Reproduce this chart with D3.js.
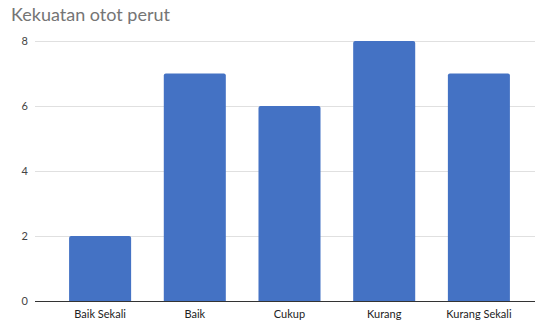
<!DOCTYPE html>
<html><head><meta charset="utf-8">
<script src="https://cdn.jsdelivr.net/npm/d3@7"></script>
<style>body{margin:0;background:#fff}svg{display:block}</style>
</head><body>
<svg id="c" width="535" height="322"></svg>
<script>
const categories = ["Baik Sekali","Baik","Cukup","Kurang","Kurang Sekali"];
const values = [2,7,6,8,7];
const yTicks = [0,2,4,6,8];
const title = "Kekuatan otot perut";

(function(){
const svg = d3.select("#c");
const W = 535, H = 322;
const mLeft = 35, mTop = 41, mBottom = 301;
const x = d3.scaleBand().domain(categories).range([mLeft, 544]).paddingInner(0.345).paddingOuter(0.36);
const y = d3.scaleLinear().domain([0,8]).range([mBottom, mTop]);
const font = "Lato, 'Open Sans', sans-serif";

svg.append("text").attr("x", 11).attr("y", 21).attr("font-family", font)
  .attr("font-size", 18).attr("fill", "#757575").text(title);

const gy = svg.append("g").attr("transform", `translate(${mLeft},0)`)
  .call(d3.axisLeft(y).tickValues(yTicks).tickSize(-(W-mLeft)).tickFormat(d3.format("d")));
gy.select(".domain").remove();
gy.selectAll(".tick line").attr("stroke", "#e0e0e0").attr("stroke-width", 1);
gy.selectAll(".tick text").attr("x", -7).attr("font-family", font).attr("font-size", 11).attr("fill", "#444");

const r = 2;
svg.append("g").selectAll("path").data(values).join("path")
  .attr("fill", "#4472C4")
  .attr("d", (d,i) => {
    const x0 = x(categories[i]), w = x.bandwidth(), y0 = y(d), y1 = y(0);
    return `M${x0},${y1}V${y0+r}Q${x0},${y0} ${x0+r},${y0}H${x0+w-r}Q${x0+w},${y0} ${x0+w},${y0+r}V${y1}Z`;
  });

const gx = svg.append("g").attr("transform", `translate(0,${mBottom})`)
  .call(d3.axisBottom(x).tickSize(0).tickPadding(9));
gx.select(".domain").attr("d", `M${mLeft},0.5H${W}`).attr("stroke", "#333").attr("stroke-width", 1);
gx.selectAll(".tick text").attr("font-family", font).attr("font-size", 11).attr("fill", "#222");
})();
</script>
</body></html>
